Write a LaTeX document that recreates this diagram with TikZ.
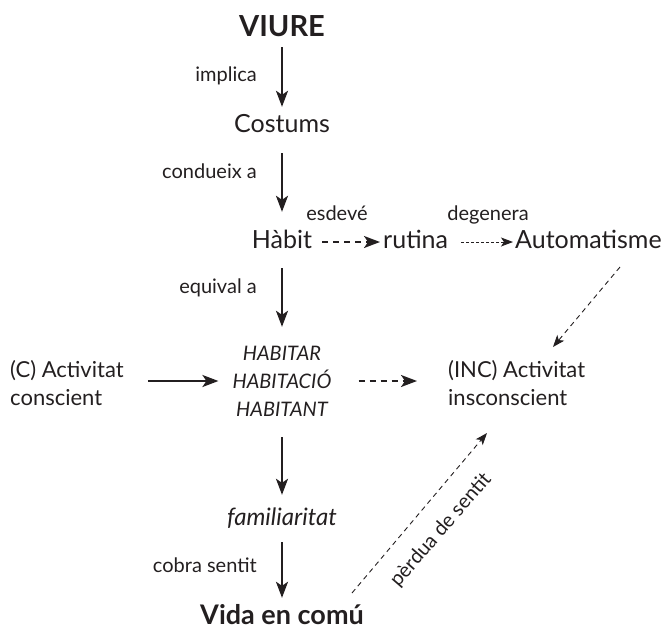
\documentclass[tikz,border=0pt]{standalone}
\usepackage{fontspec}
\setmainfont{Lato}
\usetikzlibrary{arrows.meta,calc}
\definecolor{ink}{RGB}{35,31,32}
\begin{document}
\begin{tikzpicture}[x=1pt,y=-1pt,
  every node/.style={inner sep=0pt, text=ink},
  main/.style={font=\fontsize{25}{29}\selectfont, text height=17pt, text depth=5pt},
  big/.style={font=\fontsize{29}{34}\selectfont\bfseries, text height=21pt, text depth=0pt},
  lbl/.style={font=\fontsize{20}{24}\selectfont, anchor=base east},
  toplbl/.style={font=\fontsize{20}{24}\selectfont, anchor=base},
  habs/.style={font=\fontsize{20}{24}\selectfont\itshape, text height=14pt, text depth=0pt, anchor=base},
  side/.style={font=\fontsize{22}{28}\selectfont, align=left, anchor=west},
  arr/.style={draw=ink, line width=2.1pt, -{Stealth[length=16pt,width=12pt,inset=4pt]}},
  darr/.style={arr, dash pattern=on 6pt off 5pt},
  tarr/.style={draw=ink, line width=0.9pt, dash pattern=on 5pt off 4pt, -{Stealth[length=12pt,width=9pt,inset=3pt]}},
  sarr/.style={tarr, dash pattern=on 3pt off 2pt},
]
\useasboundingbox (0,0) rectangle (670,630);

% nodes
\node[big, anchor=base] (viure) at (282,36) {VIURE};
\node[main, anchor=base] (costums) at (282,132) {Costums};
\node[main, anchor=base] (habit) at (282,248) {Hàbit};
\node[main, anchor=base west] (rutina) at (383,248) {rutina};
\node[main, anchor=base west] (auto) at (515,248) {Automatisme};
\node[habs] (hab1) at (282,360) {HABITAR};
\node[habs] (hab2) at (282,388) {HABITACIÓ};
\node[habs] (hab3) at (282,416) {HABITANT};
\node[side] (cact) at (10,383) {(C) Activitat\\conscient};
\node[side] (inc) at (448,383) {(INC) Activitat\\insconscient};
\node[main, anchor=base, font=\fontsize{24}{28}\selectfont\itshape] (famil) at (282,525) {familiaritat};
\node[big, anchor=base, font=\fontsize{27}{32}\selectfont\bfseries] (vida) at (282,624) {Vida en comú};

% labels
\node[lbl] (l1) at (257,81) {implica};
\node[lbl] (l2) at (257,178) {condueix a};
\node[toplbl] (l3) at (337,220) {esdevé};
\node[toplbl] (l4) at (488,220) {degenera};
\node[lbl] (l5) at (257,293) {equival a};
\node[lbl] (l6) at (257,572) {cobra sentit};
\node[font=\fontsize{20}{24}\selectfont, rotate=49] (l7) at (441,530) {pèrdua de sentit};

% connectors
\draw[arr, shorten <=11pt, shorten >=8pt] (viure) -- (costums);
\draw[arr, shorten <=16pt, shorten >=19pt] (costums) -- (habit);
\draw[arr, shorten <=15pt, shorten >=19pt] (habit) -- (hab1);
\draw[arr, shorten <=21pt, shorten >=13pt] (hab3) -- (famil);
\draw[arr, shorten <=12pt, shorten >=5pt] (famil) -- (vida);
\draw[darr, shorten <=10pt, shorten >=3pt] (habit) -- (rutina);
\draw[sarr, shorten <=13pt, shorten >=2pt] (rutina) -- (auto);
\draw[arr, shorten <=24pt, shorten >=14pt] (cact.east |- hab2.center) -- (hab2.west);
\draw[darr, shorten <=27pt, shorten >=31pt] (hab2.east) -- (hab2.east -| inc.west);
\draw[tarr] ($(auto.base west)+(105,19)$) -- ($(inc.west)+(105,-36)$);
\draw[tarr] ($(vida.base)+(70,-31)$) -- ($(inc.west)+(39,50)$);
\end{tikzpicture}
\end{document}
